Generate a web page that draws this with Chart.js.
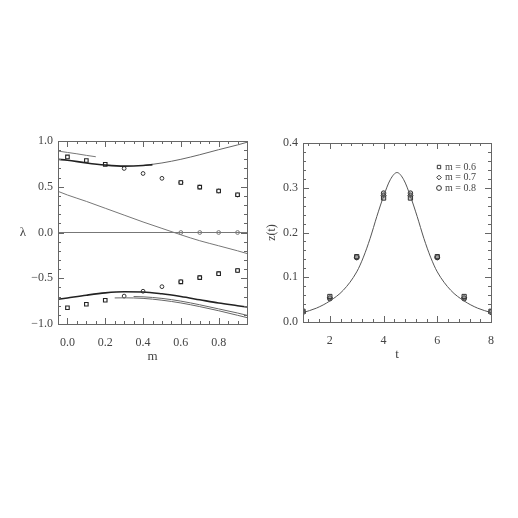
<!DOCTYPE html>
<html>
<head>
<meta charset="utf-8">
<script src="https://cdn.jsdelivr.net/npm/chart.js@4.4.1/dist/chart.umd.min.js"></script>
<style>
  html, body { margin: 0; padding: 0; background: #fff; }
  #wrap { position: relative; width: 518px; height: 518px; }
  .panel { position: absolute; top: 0; width: 259px; height: 518px; }
  #left { left: 0; }
  #right { left: 259px; }
</style>
</head>
<body>
<div id="wrap">
  <div class="panel" id="left"><canvas id="lamChart" width="259" height="518"></canvas></div>
  <div class="panel" id="right"><canvas id="zChart" width="259" height="518"></canvas></div>
</div>
<script>
// ---- left panel: lambda vs m ----
const mTicks = [0.0, 0.2, 0.4, 0.6, 0.8];
const lamTicks = [-1.0, -0.5, 0.0, 0.5, 1.0];

// data points (squares / circles)
const mSq = [0.0, 0.1, 0.2, 0.6, 0.7, 0.8, 0.9];
const lamSqUp = [0.826, 0.787, 0.745, 0.546, 0.496, 0.454, 0.412];
const lamSqDn = [-0.823, -0.784, -0.741, -0.539, -0.493, -0.450, -0.415];
const mCi = [0.3, 0.4, 0.5, 0.6, 0.7, 0.8, 0.9];
const lamCiUp = [0.700, 0.645, 0.592, 0.546, 0.496, 0.454, 0.410];
const lamCiDn = [-0.695, -0.642, -0.592, -0.539, -0.493, -0.450, -0.415];
const mZero = [0.6, 0.7, 0.8, 0.9];
const lamZero = [0, 0, 0, 0];

// curves
const mUpThick = [-0.05, 0.0, 0.1, 0.2, 0.3, 0.4, 0.45];
const upThick = [0.800, 0.790, 0.760, 0.737, 0.725, 0.732, 0.742];
const mUpThin = [0.4, 0.5, 0.6, 0.7, 0.8, 0.9, 0.95];
const upThin = [0.732, 0.760, 0.800, 0.850, 0.905, 0.957, 0.986];
const mCurve = [-0.05, 0.0, 0.1, 0.2, 0.3, 0.4, 0.5, 0.6, 0.7, 0.8, 0.9, 0.95];
const lowerCurve = [-0.730, -0.715, -0.685, -0.660, -0.648, -0.650, -0.670, -0.700, -0.735, -0.770, -0.800, -0.815];
const diagCurve = [0.450, 0.410, 0.340, 0.265, 0.190, 0.115, 0.045, -0.025, -0.090, -0.145, -0.200, -0.230];
const mShort = [-0.05, 0.0, 0.05, 0.1, 0.15];
const shortCurve = [0.890, 0.875, 0.860, 0.843, 0.828];
const mThinA = [0.25, 0.3, 0.4, 0.5, 0.6, 0.7, 0.8, 0.9, 0.95];
const thinA = [-0.715, -0.714, -0.720, -0.740, -0.770, -0.810, -0.855, -0.905, -0.930];
const mThinB = [0.35, 0.4, 0.5, 0.6, 0.7, 0.8, 0.9, 0.95];
const thinB = [-0.700, -0.703, -0.720, -0.750, -0.790, -0.835, -0.880, -0.905];
const mFlat = [-0.05, 0.95];
const flatLine = [0, 0];

// ---- right panel: z(t) vs t ----
const tTicks = [2, 4, 6, 8];
const zTicks = [0.0, 0.1, 0.2, 0.3, 0.4];
const tPts = [1, 2, 3, 4, 5, 6, 7, 8];
const z06 = [0.024, 0.057, 0.146, 0.277, 0.277, 0.146, 0.057, 0.024];
const z07 = [0.023, 0.054, 0.145, 0.283, 0.283, 0.145, 0.054, 0.023];
const z08 = [0.022, 0.052, 0.144, 0.288, 0.288, 0.144, 0.052, 0.022];
const tFit = [1, 1.5, 2, 2.5, 3, 3.25, 3.5, 3.75, 4, 4.25, 4.5, 4.75, 5, 5.25, 5.5, 5.75, 6, 6.5, 7, 7.5, 8];
const zFit = [0.021, 0.031, 0.047, 0.071, 0.112, 0.145, 0.187, 0.236, 0.281, 0.318, 0.334, 0.318, 0.281, 0.236, 0.187, 0.145, 0.112, 0.071, 0.047, 0.031, 0.021];
const legendLabels = ['m = 0.6', 'm = 0.7', 'm = 0.8'];
const legendShapes = ['rect', 'rectRot', 'circle'];

const FONT = "'Liberation Serif', serif";
const INK = '#444';

const pairs = (xs, ys) => xs.map((x, i) => ({ x: x, y: ys[i] }));

// frame with inward major/minor ticks on all four sides
const frameTicks = {
    id: 'frameTicks',
    afterDatasetsDraw(chart, args, opts) {
        const { ctx, chartArea: a, scales } = chart;
        ctx.save();
        ctx.strokeStyle = '#666';
        ctx.lineWidth = 1;
        ctx.strokeRect(Math.round(a.left) + 0.5, Math.round(a.top) + 0.5, Math.round(a.width), Math.round(a.height));

        const marks = (scale, step) => {
            const out = [];
            const n0 = Math.ceil(scale.min / step - 1e-6);
            const n1 = Math.floor(scale.max / step + 1e-6);
            for (let n = n0; n <= n1; n++) out.push(n * step);
            return out;
        };
        ctx.beginPath();
        [['x', opts.xMinor, 3], ['x', opts.xMajor, 6], ['y', opts.yMinor, 3], ['y', opts.yMajor, 6]].forEach(([id, step, len]) => {
            const s = scales[id];
            marks(s, step).forEach(v => {
                const p = Math.round(s.getPixelForValue(v)) + 0.5;
                if (id === 'x') {
                    ctx.moveTo(p, a.bottom); ctx.lineTo(p, a.bottom - len);
                    ctx.moveTo(p, a.top); ctx.lineTo(p, a.top + len);
                } else {
                    ctx.moveTo(a.left, p); ctx.lineTo(a.left + len, p);
                    ctx.moveTo(a.right, p); ctx.lineTo(a.right - len, p);
                }
            });
        });
        ctx.stroke();

        // upright lambda label (a scale title would be rotated)
        if (opts.yLabel) {
            ctx.fillStyle = INK;
            ctx.font = '13px ' + FONT;
            ctx.textAlign = 'center';
            ctx.textBaseline = 'middle';
            ctx.fillText(opts.yLabel, a.left - opts.yLabelGap, (a.top + a.bottom) / 2);
        }

        if (opts.legend) {
            ctx.font = '10px ' + FONT;
            ctx.textAlign = 'left';
            ctx.textBaseline = 'middle';
            opts.legend.labels.forEach((txt, i) => {
                const y = a.top + 24 + i * 10.5;
                const x = a.right - 52;
                ctx.strokeStyle = '#333';
                ctx.fillStyle = '#fff';
                Chart.helpers.drawPoint(ctx, { pointStyle: opts.legend.shapes[i], radius: i === 1 ? 2.3 : 2.4, borderWidth: 0.8 }, x, y);
                ctx.fillStyle = INK;
                ctx.fillText(txt, x + 6, y);
            });
        }
        ctx.restore();
    }
};

function axis(min, max, tickVals, fmt, pad, extra) {
    return Object.assign({
        type: 'linear',
        min: min,
        max: max,
        grid: { display: false, drawTicks: false },
        border: { display: false },
        afterBuildTicks: s => { s.ticks = tickVals.map(v => ({ value: v })); },
        ticks: {
            color: INK,
            padding: pad,
            font: { family: FONT, size: 12 },
            callback: v => fmt(v)
        }
    }, extra);
}

const fmt1 = v => (v < 0 ? '\u2212' : '') + Math.abs(v).toFixed(1);

new Chart(document.getElementById('lamChart'), {
    type: 'scatter',
    data: {
        datasets: [
            { data: pairs(mUpThick, upThick), showLine: true, borderColor: '#222', borderWidth: 1.6, pointRadius: 0, cubicInterpolationMode: 'monotone' },
            { data: pairs(mUpThin, upThin), showLine: true, borderColor: '#666', borderWidth: 1, pointRadius: 0, cubicInterpolationMode: 'monotone' },
            { data: pairs(mCurve, lowerCurve), showLine: true, borderColor: '#222', borderWidth: 1.6, pointRadius: 0, cubicInterpolationMode: 'monotone' },
            { data: pairs(mCurve, diagCurve), showLine: true, borderColor: '#777', borderWidth: 1, pointRadius: 0, cubicInterpolationMode: 'monotone' },
            { data: pairs(mShort, shortCurve), showLine: true, borderColor: '#777', borderWidth: 1, pointRadius: 0, cubicInterpolationMode: 'monotone' },
            { data: pairs(mThinA, thinA), showLine: true, borderColor: '#666', borderWidth: 1, pointRadius: 0, cubicInterpolationMode: 'monotone' },
            { data: pairs(mThinB, thinB), showLine: true, borderColor: '#666', borderWidth: 1, pointRadius: 0, cubicInterpolationMode: 'monotone' },
            { data: pairs(mFlat, flatLine), showLine: true, borderColor: '#777', borderWidth: 1, pointRadius: 0 },
            { data: pairs(mSq, lamSqUp).concat(pairs(mSq, lamSqDn)), pointStyle: 'rect', pointRadius: 2.5, borderColor: '#222', backgroundColor: '#fff', borderWidth: 1.1 },
            { data: pairs(mCi, lamCiUp).concat(pairs(mCi, lamCiDn)), pointStyle: 'circle', pointRadius: 1.9, borderColor: '#333', backgroundColor: 'rgba(255,255,255,0)', borderWidth: 1 },
            { data: pairs(mZero, lamZero), pointStyle: 'circle', pointRadius: 1.9, borderColor: '#777', backgroundColor: '#fff', borderWidth: 1 }
        ]
    },
    options: {
        responsive: false,
        animation: false,
        events: [],
        layout: { padding: { left: 18, right: 12, top: 141, bottom: 154 } },
        plugins: {
            legend: { display: false },
            tooltip: { enabled: false },
            frameTicks: { xMinor: 0.05, xMajor: 0.2, yMinor: 0.1, yMajor: 0.5, yLabel: '\u03bb', yLabelGap: 35 }
        },
        scales: {
            x: axis(-0.05, 0.95, mTicks, fmt1, 12, {
                afterFit: s => { s.height = 40; },
                title: { display: true, text: 'm', color: INK, font: { family: FONT, size: 13 }, padding: { top: 0, bottom: 0 } }
            }),
            y: axis(-1.0, 1.0, lamTicks, fmt1, 5, {
                afterFit: s => { s.width = 40; }
            })
        }
    },
    plugins: [frameTicks]
});

new Chart(document.getElementById('zChart'), {
    type: 'scatter',
    data: {
        datasets: [
            { data: pairs(tFit, zFit), showLine: true, borderColor: '#555', borderWidth: 1, pointRadius: 0, cubicInterpolationMode: 'monotone' },
            { data: pairs(tPts, z06), pointStyle: 'rect', pointRadius: 3, borderColor: '#333', backgroundColor: 'rgba(150,150,150,0.5)', borderWidth: 1 },
            { data: pairs(tPts, z07), pointStyle: 'rectRot', pointRadius: 2.6, borderColor: '#333', backgroundColor: 'rgba(150,150,150,0.5)', borderWidth: 1 },
            { data: pairs(tPts, z08), pointStyle: 'circle', pointRadius: 2.3, borderColor: '#333', backgroundColor: 'rgba(150,150,150,0.5)', borderWidth: 1 }
        ]
    },
    options: {
        responsive: false,
        animation: false,
        events: [],
        layout: { padding: { left: 4, right: 27, top: 143, bottom: 156 } },
        plugins: {
            legend: { display: false },
            tooltip: { enabled: false },
            frameTicks: { xMinor: 0.4, xMajor: 2, yMinor: 0.02, yMajor: 0.1, legend: { labels: legendLabels, shapes: legendShapes } }
        },
        scales: {
            x: axis(1, 8, tTicks, v => String(v), 12, {
                afterFit: s => { s.height = 40; },
                title: { display: true, text: 't', color: INK, font: { family: FONT, size: 13 }, padding: { top: 0, bottom: 0 } }
            }),
            y: axis(0, 0.4, zTicks, fmt1, 5, {
                afterFit: s => { s.width = 40; },
                title: { display: true, text: 'z(t)', color: INK, font: { family: FONT, size: 12 }, padding: { top: 2, bottom: 0 } }
            })
        }
    },
    plugins: [frameTicks]
});
</script>
</body>
</html>
